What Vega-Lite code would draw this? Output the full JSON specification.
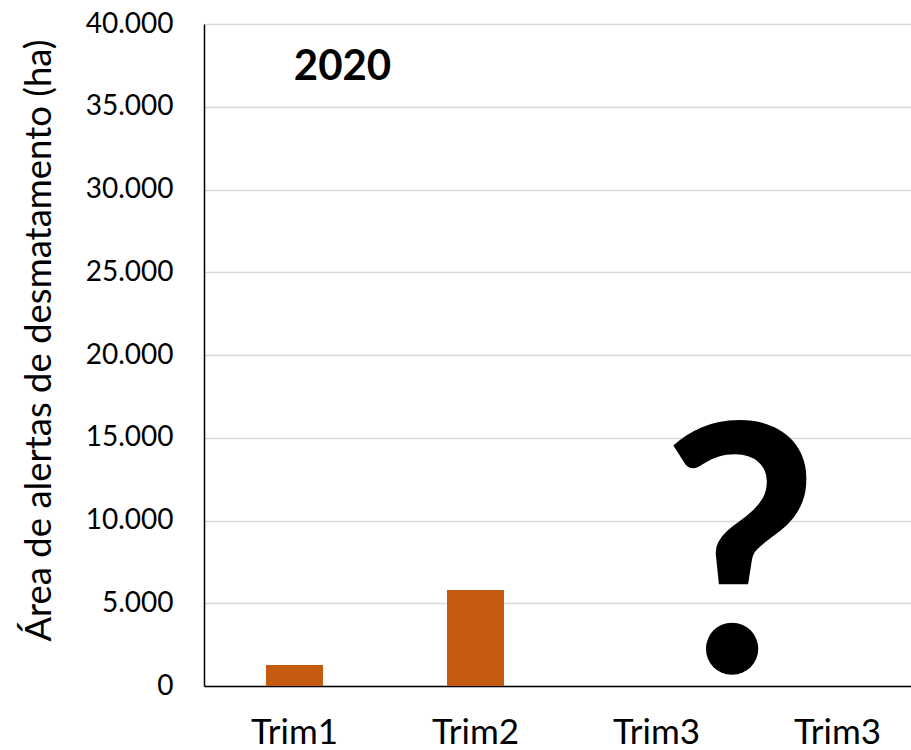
{
  "$schema": "https://vega.github.io/schema/vega-lite/v6.json",
  "width": 724,
  "height": 662,
  "autosize": {"type": "none"},
  "padding": {"left": 204, "top": 24, "right": 0, "bottom": 64},
  "background": "white",
  "config": {
    "view": {"stroke": null},
    "font": "Lato",
    "axis": {"labelFont": "Lato", "titleFont": "Lato", "labelColor": "#000", "titleColor": "#000"}
  },
  "layer": [
    {
      "data": {"values": [
        {"trim": "Trim1a", "area": 1270},
        {"trim": "Trim2a", "area": 5800},
        {"trim": "Trim3a", "area": null},
        {"trim": "Trim3b", "area": null}
      ]},
      "mark": {"type": "bar", "color": "#C55A11"},
      "encoding": {
        "x": {
          "field": "trim", "type": "nominal",
          "scale": {"domain": ["Trim1a", "Trim2a", "Trim3a", "Trim3b"], "paddingInner": 0.685, "paddingOuter": 0.3425},
          "axis": {
            "title": null, "labelAngle": 0, "labelFontSize": 35, "labelPadding": 29,
            "labelExpr": "substring(datum.value, 0, 5)",
            "ticks": false, "domainColor": "#000", "domainWidth": 1.5
          }
        },
        "y": {
          "field": "area", "type": "quantitative",
          "scale": {"domain": [0, 40000], "nice": false},
          "axis": {
            "title": "Área de alertas de desmatamento (ha)", "titleFontSize": 36.5, "titleFontWeight": "normal", "titlePadding": 27,
            "titleY": 316, "titleLimit": 700,
            "values": [0, 5000, 10000, 15000, 20000, 25000, 30000, 35000, 40000],
            "labelExpr": "replace(format(datum.value, ','), ',', '.')",
            "labelFontSize": 28, "labelPadding": 31, "ticks": false,
            "domainColor": "#000", "domainWidth": 1.5,
            "gridColor": "#D9D9D9", "gridWidth": 1.5
          }
        }
      }
    },
    {
      "data": {"values": [{"trim": "Trim1a", "area": 37400, "label": "2020"}]},
      "mark": {"type": "text", "fontSize": 42, "fontWeight": "bold", "baseline": "middle", "align": "center", "dx": 48, "color": "#000"},
      "encoding": {
        "x": {"field": "trim", "type": "nominal"},
        "y": {"field": "area", "type": "quantitative"},
        "text": {"field": "label"}
      }
    },
    {
      "data": {"values": [{"trim": "Trim3a", "area": 830, "label": "?"}]},
      "mark": {"type": "text", "fontSize": 345, "fontWeight": "bold", "baseline": "alphabetic", "align": "center", "dx": 84, "color": "#000"},
      "encoding": {
        "x": {"field": "trim", "type": "nominal"},
        "y": {"field": "area", "type": "quantitative"},
        "text": {"field": "label"}
      }
    }
  ]
}
